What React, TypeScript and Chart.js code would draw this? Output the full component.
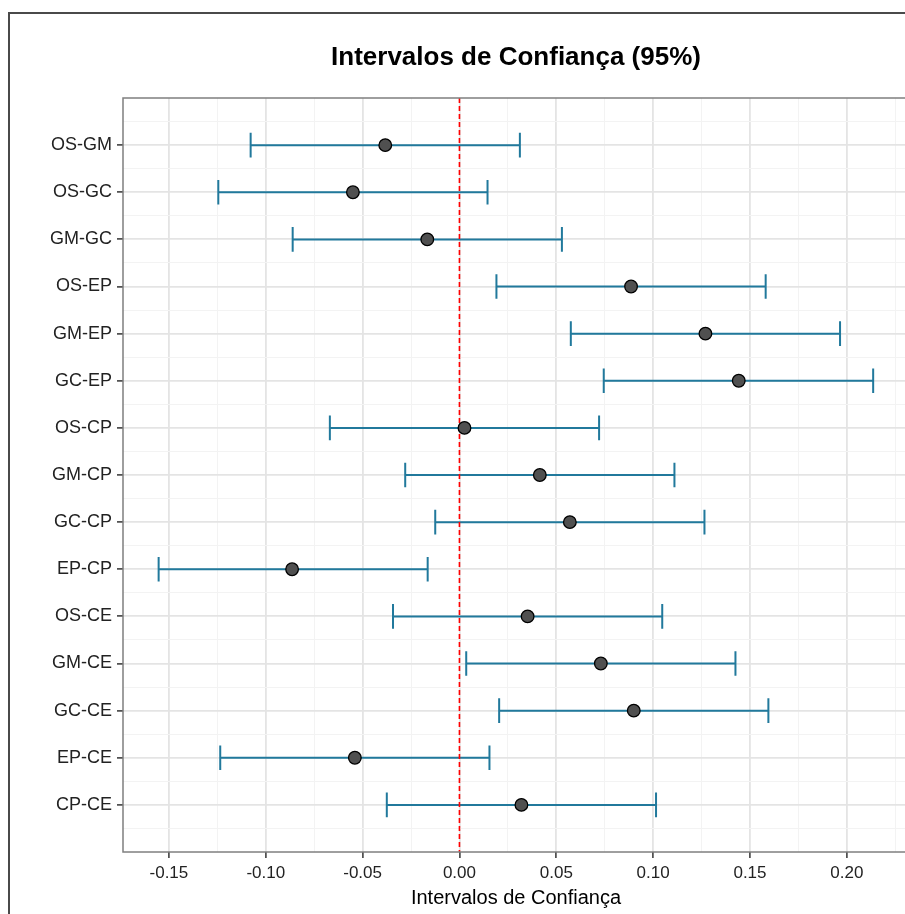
import React, { useEffect, useRef } from "react";
import { Chart, registerables } from "chart.js";

Chart.register(...registerables);

const categories = [
  "OS-GM", "OS-GC", "GM-GC", "OS-EP", "GM-EP", "GC-EP", "OS-CP", "GM-CP",
  "GC-CP", "EP-CP", "OS-CE", "GM-CE", "GC-CE", "EP-CE", "CP-CE",
];
const centers = [
  -0.0383, -0.055, -0.0166, 0.0886, 0.127, 0.1442, 0.0026, 0.0415,
  0.057, -0.0864, 0.0352, 0.073, 0.09, -0.054, 0.032,
];
const lowers = [
  -0.1078, -0.1245, -0.0861, 0.0191, 0.0575, 0.0745, -0.0669, -0.028,
  -0.0125, -0.1553, -0.0343, 0.0035, 0.0205, -0.1235, -0.0375,
];
const uppers = [
  0.0312, 0.0145, 0.0529, 0.1581, 0.1965, 0.2136, 0.0721, 0.111,
  0.1265, -0.0164, 0.1047, 0.1425, 0.1595, 0.0155, 0.1015,
];
const xMajorTicks = [-0.15, -0.1, -0.05, 0.0, 0.05, 0.1, 0.15, 0.2];
const xMinorTicks = [-0.125, -0.075, -0.025, 0.025, 0.075, 0.125, 0.175, 0.225];

const FONT = "'Liberation Sans', Arial, sans-serif";
const BAR_COLOR = "#21799c";

const isMajorX = (v: number) => xMajorTicks.some((t) => Math.abs(t - v) < 1e-9);
const isMajorY = (v: number) => Math.abs(v - Math.round(v)) < 1e-9;

const errorBarPlugin = {
  id: "errorBars",
  beforeDatasetsDraw(chart: any) {
    const { ctx, scales, chartArea } = chart;
    const xs = scales.x;
    const ys = scales.y;
    const capHalf = Math.abs(ys.getPixelForValue(1.26) - ys.getPixelForValue(1));
    ctx.save();
    ctx.strokeStyle = BAR_COLOR;
    ctx.lineWidth = 2;
    for (let i = 0; i < categories.length; i++) {
      const y = ys.getPixelForValue(i + 1);
      const x1 = xs.getPixelForValue(lowers[i]);
      const x2 = xs.getPixelForValue(uppers[i]);
      ctx.beginPath();
      ctx.moveTo(x1, y);
      ctx.lineTo(x2, y);
      ctx.moveTo(x1, y - capHalf);
      ctx.lineTo(x1, y + capHalf);
      ctx.moveTo(x2, y - capHalf);
      ctx.lineTo(x2, y + capHalf);
      ctx.stroke();
    }
    const x0 = xs.getPixelForValue(0);
    ctx.strokeStyle = "#ff0000";
    ctx.lineWidth = 1.6;
    ctx.setLineDash([5, 3]);
    ctx.beginPath();
    ctx.moveTo(x0, chartArea.top);
    ctx.lineTo(x0, chartArea.bottom);
    ctx.stroke();
    ctx.restore();
  },
  afterDraw(chart: any) {
    const { ctx, chartArea } = chart;
    ctx.save();
    ctx.strokeStyle = "#7f7f7f";
    ctx.lineWidth = 1.5;
    ctx.strokeRect(
      chartArea.left,
      chartArea.top,
      chartArea.right - chartArea.left,
      chartArea.bottom - chartArea.top
    );
    ctx.restore();
  },
};

export default function App() {
  const ref = useRef<HTMLCanvasElement | null>(null);

  useEffect(() => {
    if (!ref.current) return;
    const chart = new Chart(ref.current, {
      type: "scatter",
      data: {
        datasets: [
          {
            data: centers.map((c, i) => ({ x: c, y: i + 1 })),
            pointRadius: 6.3,
            pointBackgroundColor: "#505050",
            pointBorderColor: "#000000",
            pointBorderWidth: 1.3,
          },
        ],
      },
      options: {
        animation: false,
        responsive: false,
        devicePixelRatio: 1,
        layout: { padding: { left: 0, right: 21, top: 0, bottom: 0 } },
        plugins: {
          legend: { display: false },
          tooltip: { enabled: false },
          title: {
            display: true,
            text: "Intervalos de Confiança (95%)",
            fullSize: false,
            color: "#000000",
            font: { family: FONT, size: 26, weight: "bold" },
            padding: { top: 42.4, bottom: 24.4 },
          },
        },
        scales: {
          x: {
            type: "linear",
            min: -0.1737,
            max: 0.2321,
            afterBuildTicks: (scale: any) => {
              scale.ticks = [...xMajorTicks, ...xMinorTicks]
                .sort((a, b) => a - b)
                .map((v) => ({ value: v }));
            },
            afterFit: (scale: any) => {
              scale.height = 62;
            },
            border: { display: false },
            grid: {
              color: (c: any) => (c.tick && isMajorX(c.tick.value) ? "#e4e4e4" : "#f3f3f3"),
              lineWidth: (c: any) => (c.tick && isMajorX(c.tick.value) ? 1.8 : 1),
              tickColor: (c: any) =>
                c.tick && isMajorX(c.tick.value) ? "#333333" : "rgba(0,0,0,0)",
              tickWidth: 1.5,
              tickLength: 6,
            },
            ticks: {
              autoSkip: false,
              maxRotation: 0,
              padding: 5,
              color: "#222222",
              font: { family: FONT, size: 17 },
              callback: (v: any) => (isMajorX(Number(v)) ? Number(v).toFixed(2) : ""),
            },
            title: {
              display: true,
              text: "Intervalos de Confiança",
              color: "#000000",
              font: { family: FONT, size: 20 },
              padding: { top: 0, bottom: 4 },
            },
          },
          y: {
            type: "linear",
            reverse: true,
            min: 0,
            max: 16,
            afterBuildTicks: (scale: any) => {
              const t: { value: number }[] = [];
              for (let k = 1; k <= 31; k++) t.push({ value: k / 2 });
              scale.ticks = t;
            },
            afterFit: (scale: any) => {
              scale.width = 123;
            },
            border: { display: false },
            grid: {
              color: (c: any) => (c.tick && isMajorY(c.tick.value) ? "#e4e4e4" : "#f3f3f3"),
              lineWidth: (c: any) => (c.tick && isMajorY(c.tick.value) ? 1.8 : 1),
              tickColor: (c: any) =>
                c.tick && isMajorY(c.tick.value) ? "#333333" : "rgba(0,0,0,0)",
              tickWidth: 1.5,
              tickLength: 6,
            },
            ticks: {
              autoSkip: false,
              padding: 5,
              color: "#222222",
              font: { family: FONT, size: 18 },
              callback: (v: any) => {
                const n = Number(v);
                return isMajorY(n) ? categories[Math.round(n) - 1] ?? "" : "";
              },
            },
          },
        },
      },
      plugins: [errorBarPlugin],
    } as any);
    return () => chart.destroy();
  }, []);

  return (
    <div
      style={{
        position: "fixed",
        left: 0,
        top: 0,
        width: 905,
        height: 914,
        overflow: "hidden",
        background: "#ffffff",
      }}
    >
      <div
        style={{
          position: "absolute",
          left: 8,
          top: 12,
          width: 940,
          height: 940,
          border: "2px solid #4a4a4a",
          boxSizing: "border-box",
        }}
      />
      <canvas
        ref={ref}
        width={930}
        height={914}
        style={{ position: "absolute", left: 0, top: 0, width: 930, height: 914 }}
      />
    </div>
  );
}
